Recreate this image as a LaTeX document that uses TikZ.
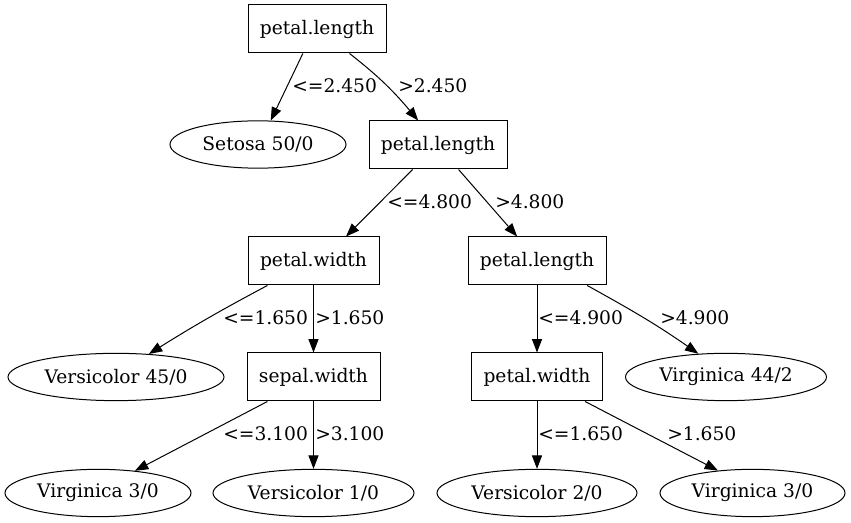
\documentclass[tikz,border=0pt]{standalone}
\usepackage{fontspec}
\setmainfont{DejaVu Serif}
\usetikzlibrary{shapes.geometric,arrows.meta}
\begin{document}
\begin{tikzpicture}[x=0.75pt,y=-0.75pt,
  every node/.style={font=\fontsize{14}{17}\selectfont},
  box/.style={draw,rectangle,minimum height=36pt,inner sep=0pt,line width=0.75pt},
  leaf/.style={draw,ellipse,minimum height=35.5pt,inner sep=0pt,line width=0.75pt},
  edge/.style={-{Triangle[length=10pt,width=7.5pt]},line width=0.75pt},
  lbl/.style={anchor=base west,inner sep=0pt}]
\fill[white] (0,0) rectangle (851,523);
\useasboundingbox (0,0) rectangle (851,523);
% nodes
\node[box,minimum width=103.5pt] (root) at (317,29) {petal.length};
\node[leaf,minimum width=132pt] (setosa) at (258,144.5) {Setosa 50/0};
\node[box,minimum width=103.5pt] (pl2) at (438,145) {petal.length};
\node[box,minimum width=98.25pt] (pw) at (313.5,261) {petal.width};
\node[box,minimum width=103.5pt] (pl3) at (537,261) {petal.length};
\node[leaf,minimum width=162pt] (vers45) at (116,377) {Versicolor 45/0};
\node[box,minimum width=99.75pt] (sepal) at (313.5,377) {sepal.width};
\node[box,minimum width=98.25pt] (pw2) at (537,377) {petal.width};
\node[leaf,minimum width=150.75pt] (virg44) at (726,377) {Virginica 44/2};
\node[leaf,minimum width=139.5pt] (virg3) at (98,493) {Virginica 3/0};
\node[leaf,minimum width=150.75pt] (vers1) at (313.5,493) {Versicolor 1/0};
\node[leaf,minimum width=150pt] (vers2) at (537,493) {Versicolor 2/0};
\node[leaf,minimum width=138.75pt] (virg3r) at (752.5,493) {Virginica 3/0};
% edges
\draw[edge] (root.-120.3) -- (setosa.62.9);
\draw[edge] (root.-37.7) to[out=-38,in=130] (pl2.129.8);
\draw[edge] (pl2.-136.2) -- (pw.37.3);
\draw[edge] (pl2.-50.2) -- (pl3.129.8);
\draw[edge] (pw.-152.7) to[out=-152,in=32] (vers45.35.2);
\draw[edge] (pw.south) -- (sepal.north);
\draw[edge] (pl3.south) -- (pw2.north);
\draw[edge] (pl3.-26.6) to[out=-29,in=145] (virg44.140.4);
\draw[edge] (sepal.-152.7) -- (virg3.31.6);
\draw[edge] (sepal.south) -- (vers1.north);
\draw[edge] (pw2.south) -- (vers2.north);
\draw[edge] (pw2.-27.3) -- (virg3r.147.4);
% labels
\node[lbl] (l1) at (292,93) {<=2.450};
\node[lbl] (l2) at (398,93) {>2.450};
\node[lbl] (l3) at (387,209) {<=4.800};
\node[lbl] (l4) at (495,209) {>4.800};
\node[lbl] (l5) at (223,325) {<=1.650};
\node[lbl] (l6) at (315,325) {>1.650};
\node[lbl] (l7) at (538,325) {<=4.900};
\node[lbl] (l8) at (660,325) {>4.900};
\node[lbl] (l9) at (223,441) {<=3.100};
\node[lbl] (l10) at (315,441) {>3.100};
\node[lbl] (l11) at (538,441) {<=1.650};
\node[lbl] (l12) at (667,441) {>1.650};
\end{tikzpicture}
\end{document}
